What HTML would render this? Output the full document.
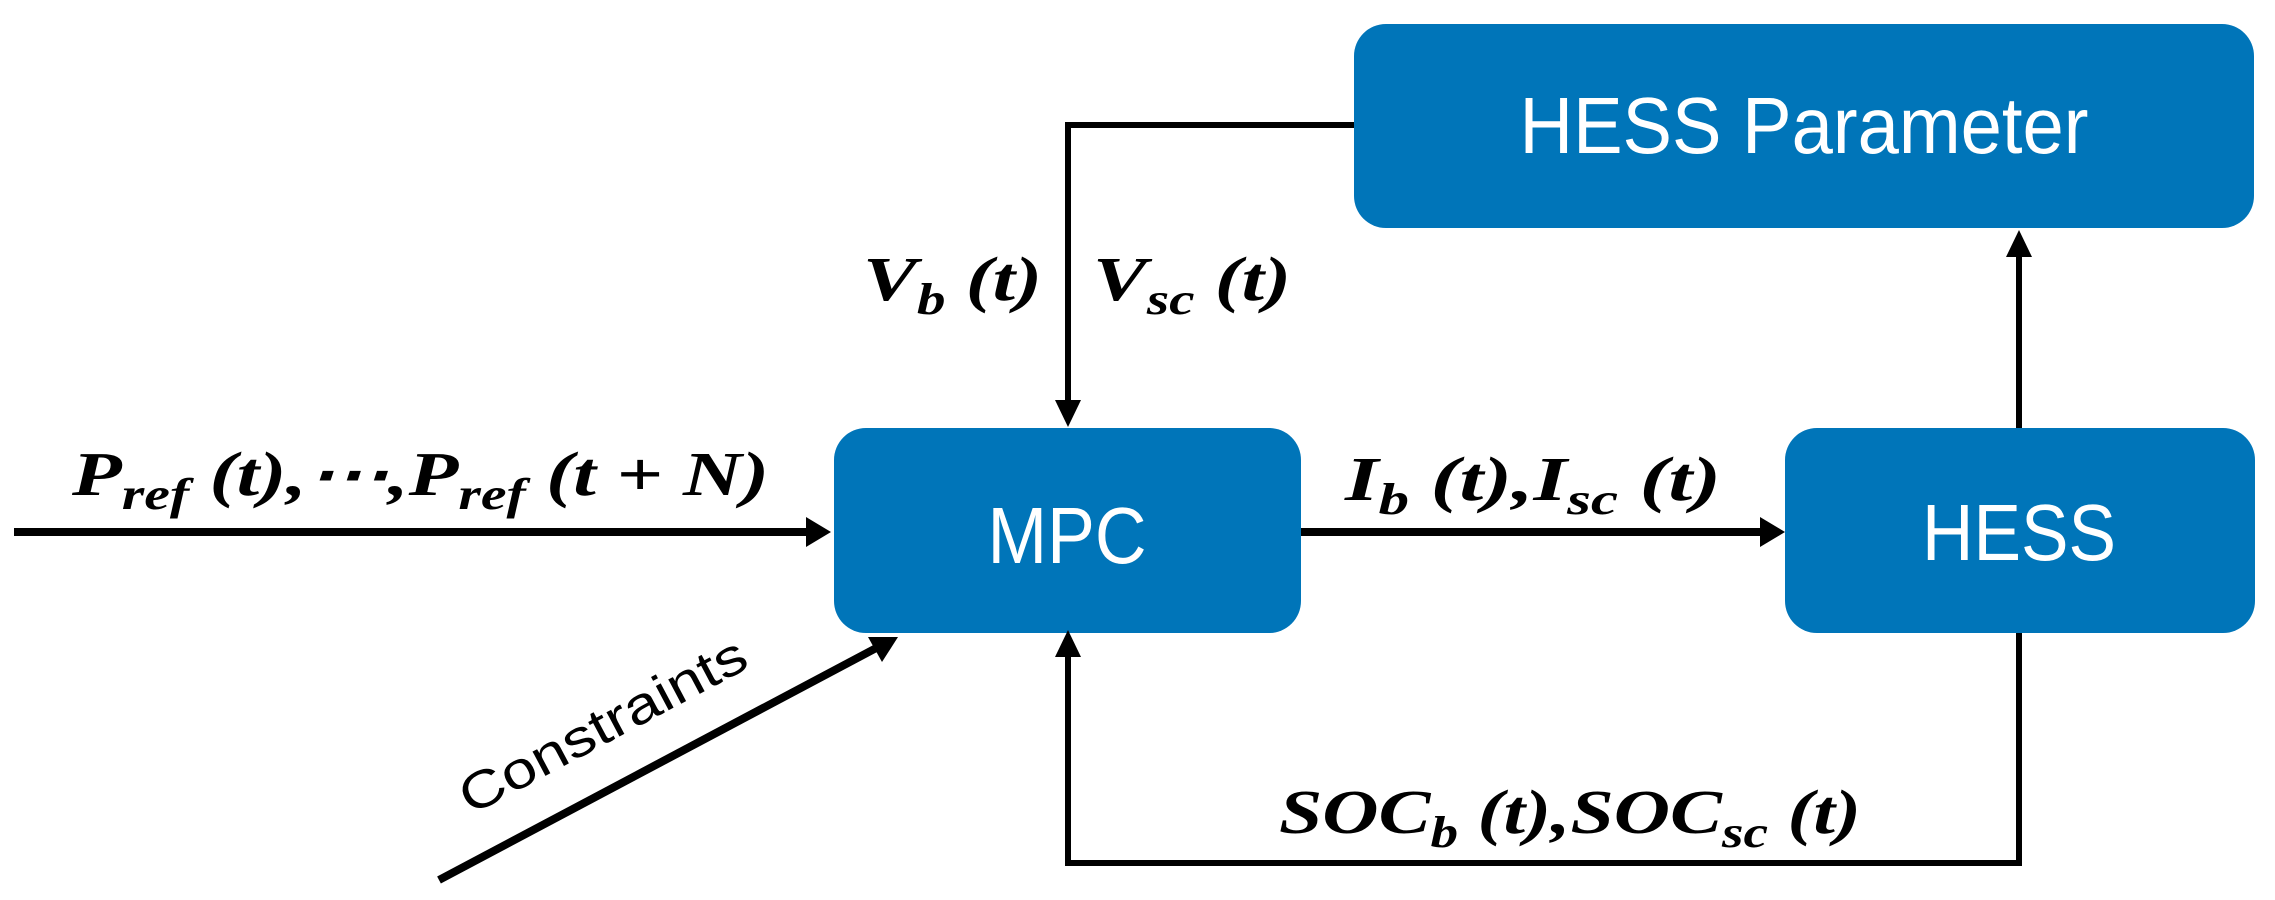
<!DOCTYPE html>
<html><head><meta charset="utf-8"><style>
html,body{margin:0;padding:0;background:#fff;}
svg{display:block;}
.m{font-family:"Liberation Serif",serif;font-weight:bold;font-style:italic;font-size:62px;fill:#000;}
.b{font-family:"Liberation Sans",sans-serif;fill:#fff;font-size:80px;}
</style></head><body>
<svg width="2275" height="900" viewBox="0 0 2275 900" xmlns="http://www.w3.org/2000/svg">
<rect x="1354" y="24" width="900" height="204" rx="32" fill="#0075b9"/>
<rect x="834" y="428" width="467" height="205" rx="32" fill="#0075b9"/>
<rect x="1785" y="428" width="470" height="205" rx="32" fill="#0075b9"/>
<text class="b" x="1804" y="153" text-anchor="middle" textLength="569" lengthAdjust="spacingAndGlyphs">HESS Parameter</text>
<text class="b" x="1067" y="563" text-anchor="middle" textLength="159" lengthAdjust="spacingAndGlyphs">MPC</text>
<text class="b" x="2019" y="560" text-anchor="middle" textLength="194" lengthAdjust="spacingAndGlyphs">HESS</text>
<g stroke="#000" fill="none">
<line x1="14" y1="532" x2="808" y2="532" stroke-width="8"/>
<line x1="1301" y1="532" x2="1762" y2="532" stroke-width="8"/>
<polyline points="1354,125 1068,125 1068,400" stroke-width="6"/>
<polyline points="2019,633 2019,863 1068,863 1068,655" stroke-width="6"/>
<line x1="2019" y1="428" x2="2019" y2="255" stroke-width="6"/>
<line x1="439" y1="880" x2="880" y2="646" stroke-width="8"/>
</g>
<g fill="#000">
<polygon points="831,532 806,517 806,547"/>
<polygon points="1785,532 1760,517 1760,547"/>
<polygon points="1068,427 1055,400 1081,400"/>
<polygon points="1068,630 1055,657 1081,657"/>
<polygon points="2019,230 2006,257 2032,257"/>
<polygon points="898,637 868,637 882,662"/>
</g>
<text class="m" x="72" y="495" textLength="697" lengthAdjust="spacingAndGlyphs">P<tspan font-size="44" dy="14">ref</tspan><tspan dy="-14"> (t),⋯,P</tspan><tspan font-size="44" dy="14">ref</tspan><tspan dy="-14"> (t + N)</tspan></text>
<text class="m" x="863" y="300" textLength="179" lengthAdjust="spacingAndGlyphs">V<tspan font-size="44" dy="14">b</tspan><tspan dy="-14"> (t)</tspan></text>
<text class="m" x="1093" y="300" textLength="198" lengthAdjust="spacingAndGlyphs">V<tspan font-size="44" dy="14">sc</tspan><tspan dy="-14"> (t)</tspan></text>
<text class="m" x="1345" y="500" textLength="376" lengthAdjust="spacingAndGlyphs">I<tspan font-size="44" dy="14">b</tspan><tspan dy="-14"> (t),I</tspan><tspan font-size="44" dy="14">sc</tspan><tspan dy="-14"> (t)</tspan></text>
<text class="m" x="1279" y="833" textLength="582" lengthAdjust="spacingAndGlyphs">SOC<tspan font-size="44" dy="14">b</tspan><tspan dy="-14"> (t),SOC</tspan><tspan font-size="44" dy="14">sc</tspan><tspan dy="-14"> (t)</tspan></text>
<text x="611" y="741" transform="rotate(-28 611 741)" text-anchor="middle" font-family="Liberation Sans, sans-serif" font-size="52" fill="#000" textLength="318" lengthAdjust="spacingAndGlyphs">Constraints</text>
</svg>
</body></html>
